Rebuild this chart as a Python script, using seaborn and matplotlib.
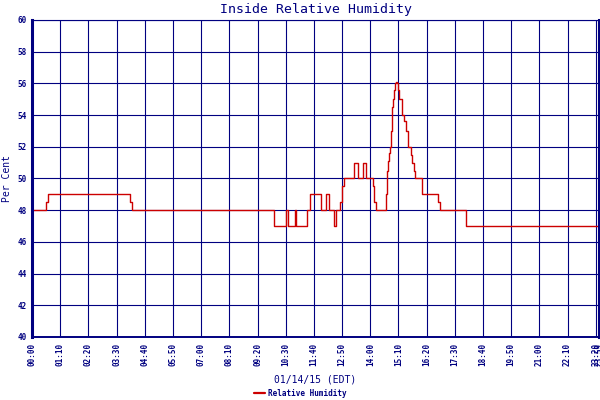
import matplotlib
matplotlib.use('Agg')
import matplotlib.pyplot as plt
import seaborn as sns
import pandas as pd

# === Data (minutes since midnight, % RH) ===
minutes = [0, 35, 40, 244, 248, 600, 630, 635, 653, 656,
           682, 690, 718, 731, 738, 750, 755, 766, 770, 775,
           800, 810, 821, 829, 847, 850, 854, 879, 881, 884,
           887, 889, 891, 893, 896, 900, 902, 904, 906, 908,
           911, 918, 919, 924, 928, 934, 940, 944, 949, 951,
           968, 1009, 1013, 1078, 1408]
humidity = [48, 48.5, 49, 48.5, 48, 47, 48, 47, 48, 47,
            48, 49, 48, 49, 48, 47, 48, 48.5, 49.5, 50,
            51, 50, 51, 50, 49.5, 48.5, 48, 49, 50.5, 51.1,
            51.6, 52, 53, 54.5, 55, 55.6, 56, 56.1, 56, 55.6,
            55, 54.5, 54, 53.6, 53, 52, 51.5, 51, 50.5, 50,
            49, 48.5, 48, 47, 47]

tick_minutes = [0, 70, 140, 210, 280, 350, 420, 490, 560, 630, 700,
                770, 840, 910, 980, 1050, 1120, 1190, 1260, 1330, 1400, 1408]
tick_labels = ['00:00', '01:10', '02:20', '03:30', '04:40', '05:50', '07:00',
               '08:10', '09:20', '10:30', '11:40', '12:50', '14:00', '15:10',
               '16:20', '17:30', '18:40', '19:50', '21:00', '22:10', '23:20', '23:59']
y_ticks = [40, 42, 44, 46, 48, 50, 52, 54, 56, 58, 60]

df = pd.DataFrame({'minute': minutes, 'rh': humidity})

NAVY = '#000080'
RED = '#cc0000'

sns.set_theme(style='white')
plt.rcParams['font.family'] = ['DejaVu Sans Mono']

fig = plt.figure(figsize=(6, 4), dpi=100)
ax = fig.add_axes([32 / 600, 63 / 400, 567 / 600, 317 / 400])

sns.lineplot(data=df, x='minute', y='rh', drawstyle='steps-post', color=RED,
             linewidth=1.0, ax=ax, label='Relative Humidity')

ax.set_xlim(0, 1408)
ax.set_ylim(40, 60)
ax.set_xticks(tick_minutes)
ax.set_xticklabels(tick_labels, rotation=90, fontsize=5.5, fontweight='bold', color=NAVY)
ax.set_yticks(y_ticks)
ax.set_yticklabels([str(v) for v in y_ticks], fontsize=5.5, fontweight='bold', color=NAVY)
ax.tick_params(axis='both', length=0, pad=4)

ax.grid(True, color=NAVY, linewidth=0.8)
ax.set_axisbelow(True)
for side, w in [('left', 2.2), ('right', 2.2), ('top', 0.8), ('bottom', 1.4)]:
    ax.spines[side].set_color(NAVY)
    ax.spines[side].set_linewidth(w)

ax.set_title('Inside Relative Humidity', fontsize=9.5, color=NAVY, pad=5)
ax.set_xlabel('01/14/15 (EDT)', fontsize=7, color=NAVY, labelpad=6)
ax.set_ylabel('Per Cent', fontsize=7, color=NAVY, labelpad=4)

ax.get_legend().remove()
handles, labels = ax.get_legend_handles_labels()
leg = fig.legend(handles, labels, loc='lower center', bbox_to_anchor=(0.5, -0.012),
                 frameon=False, handlelength=1.5, handletextpad=0.3,
                 prop={'size': 5.5, 'weight': 'bold'})
for t in leg.get_texts():
    t.set_color(NAVY)
for h in leg.get_lines():
    h.set_linewidth(1.6)

fig.savefig('out.png', dpi=100, facecolor='white')
